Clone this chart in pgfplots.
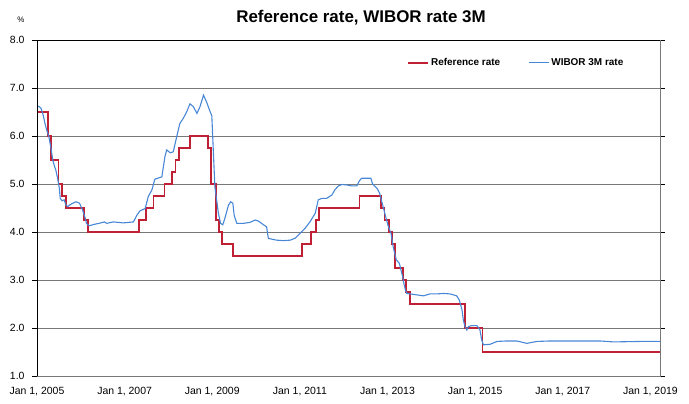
\documentclass[border=0pt]{standalone}
\usepackage{pgfplots}
\pgfplotsset{compat=1.18}
\usepackage{fontspec}
\setmainfont{Liberation Sans}
\definecolor{refred}{RGB}{192,32,52}
\definecolor{wibblue}{RGB}{72,134,214}
\definecolor{gridgray}{RGB}{120,120,120}
\begin{document}
\begin{tikzpicture}[x=1bp,y=1bp]
\useasboundingbox (0,0) rectangle (689,403);
\node[font=\bfseries\fontsize{17}{19}\selectfont] at (361,385) {Reference rate, WIBOR rate 3M};
\node[font=\fontsize{8}{9}\selectfont] at (21,383) {\%};
\begin{axis}[
  at={(37bp,27bp)}, anchor=south west,
  width=623bp, height=336bp, scale only axis,
  xmin=2005, xmax=2019.22, ymin=1, ymax=8,
  xtick={2005,2007,2009,2011,2013,2015,2017,2019},
  xticklabels={{Jan 1, 2005},{Jan 1, 2007},{Jan 1, 2009},{Jan 1, 2011},{Jan 1, 2013},{Jan 1, 2015},{Jan 1, 2017},{Jan 1, 2019}},
  ytick={1,2,...,8},
  yticklabel style={xshift=-4bp, /pgf/number format/.cd, fixed, fixed zerofill, precision=1},
  /pgf/number format/assume math mode=true,
  ticklabel style={font=\fontsize{10.5}{12}\selectfont},
  xtick style={draw=none},
  ytick style={black, line width=0.6bp},
  tick align=outside, major tick length=5bp,
  xticklabel style={yshift=-3bp},
  ymajorgrids, major grid style={gridgray, line width=0.8bp},
  axis line style={gridgray, line width=0.8bp},
  clip=true,
  legend columns=2,
  legend style={draw=none, fill=none, at={(0.594,0.932)}, anchor=west,
    font=\bfseries\fontsize{10}{11}\selectfont, inner sep=0pt,
    /tikz/every even column/.append style={column sep=26bp}},
  legend image code/.code={\draw[#1] (0bp,0bp) -- (20bp,0bp);},
]
\addplot[const plot mark left, refred, line width=1.8bp] coordinates {
(2005.00,6.50) (2005.25,6.00) (2005.32,5.50) (2005.49,5.00) (2005.57,4.75)
(2005.66,4.50) (2006.08,4.25) (2006.16,4.00) (2007.32,4.25) (2007.49,4.50)
(2007.66,4.75) (2007.91,5.00) (2008.08,5.25) (2008.16,5.50) (2008.24,5.75)
(2008.49,6.00) (2008.91,5.75) (2008.98,5.00) (2009.08,4.25) (2009.16,4.00)
(2009.23,3.75) (2009.48,3.50) (2011.05,3.75) (2011.26,4.00) (2011.36,4.25)
(2011.44,4.50) (2012.36,4.75) (2012.85,4.50) (2012.93,4.25) (2013.03,4.00)
(2013.10,3.75) (2013.18,3.25) (2013.35,3.00) (2013.43,2.75) (2013.51,2.50)
(2014.77,2.00) (2015.17,1.50) (2019.22,1.50)
};
\addlegendentry{Reference rate}
\addplot[wibblue, line width=1.1bp] coordinates {
(2005.00,6.63) (2005.05,6.61) (2005.09,6.58) (2005.14,6.44) (2005.19,6.23)
(2005.22,6.13) (2005.27,5.99) (2005.32,5.74) (2005.36,5.50) (2005.39,5.40)
(2005.43,5.29) (2005.47,5.12) (2005.51,4.91) (2005.53,4.70) (2005.57,4.65)
(2005.62,4.67) (2005.66,4.56) (2005.70,4.53) (2005.74,4.56) (2005.82,4.60)
(2005.89,4.63) (2005.97,4.60) (2006.04,4.46) (2006.10,4.29) (2006.13,4.18)
(2006.19,4.13) (2006.31,4.16) (2006.46,4.19) (2006.54,4.21) (2006.59,4.18)
(2006.74,4.21) (2006.97,4.19) (2007.20,4.21) (2007.28,4.35) (2007.35,4.44)
(2007.47,4.49) (2007.54,4.74) (2007.62,4.87) (2007.69,5.10) (2007.85,5.15)
(2007.92,5.57) (2007.96,5.71) (2008.04,5.65) (2008.11,5.67) (2008.19,5.99)
(2008.26,6.26) (2008.34,6.37) (2008.42,6.51) (2008.49,6.67) (2008.57,6.61)
(2008.65,6.47) (2008.72,6.61) (2008.80,6.85) (2008.87,6.71) (2008.95,6.51)
(2008.99,6.42) (2009.06,4.94) (2009.10,4.67) (2009.14,4.39) (2009.19,4.18)
(2009.24,4.15) (2009.29,4.29) (2009.37,4.56) (2009.42,4.63) (2009.47,4.60)
(2009.50,4.35) (2009.56,4.18) (2009.71,4.18) (2009.86,4.20) (2009.98,4.25)
(2010.05,4.23) (2010.17,4.15) (2010.24,4.11) (2010.28,3.87) (2010.36,3.85)
(2010.47,3.83) (2010.62,3.82) (2010.78,3.83) (2010.89,3.87) (2011.00,3.97)
(2011.12,4.08) (2011.23,4.21) (2011.35,4.39) (2011.42,4.67) (2011.50,4.70)
(2011.61,4.70) (2011.73,4.77) (2011.80,4.88) (2011.88,4.96) (2011.96,4.99)
(2012.07,4.98) (2012.18,4.96) (2012.30,4.96) (2012.36,5.07) (2012.41,5.12)
(2012.53,5.12) (2012.62,5.12) (2012.66,5.00) (2012.76,4.91) (2012.82,4.81)
(2012.87,4.63) (2012.95,4.35) (2013.02,4.11) (2013.08,3.97) (2013.13,3.69)
(2013.20,3.42) (2013.27,3.35) (2013.35,3.05) (2013.38,2.90) (2013.41,2.79)
(2013.44,2.72) (2013.52,2.71) (2013.67,2.69) (2013.82,2.67) (2013.97,2.71)
(2014.13,2.71) (2014.28,2.72) (2014.43,2.71) (2014.58,2.67) (2014.64,2.58)
(2014.70,2.38) (2014.73,2.17) (2014.77,2.03) (2014.81,1.96) (2014.85,2.03)
(2014.92,2.05) (2015.04,2.05) (2015.11,1.96) (2015.15,1.75) (2015.19,1.65)
(2015.34,1.66) (2015.50,1.72) (2015.72,1.73) (2015.95,1.73) (2016.18,1.68)
(2016.41,1.72) (2016.71,1.73) (2017.24,1.73) (2017.85,1.73) (2018.16,1.71)
(2018.77,1.72) (2019.22,1.72)
};
\addlegendentry{WIBOR 3M rate}
\draw[black, line width=0.8bp] (rel axis cs:0,0) -- (rel axis cs:0,1) -- (rel axis cs:1,1);
\end{axis}
\end{tikzpicture}
\end{document}
